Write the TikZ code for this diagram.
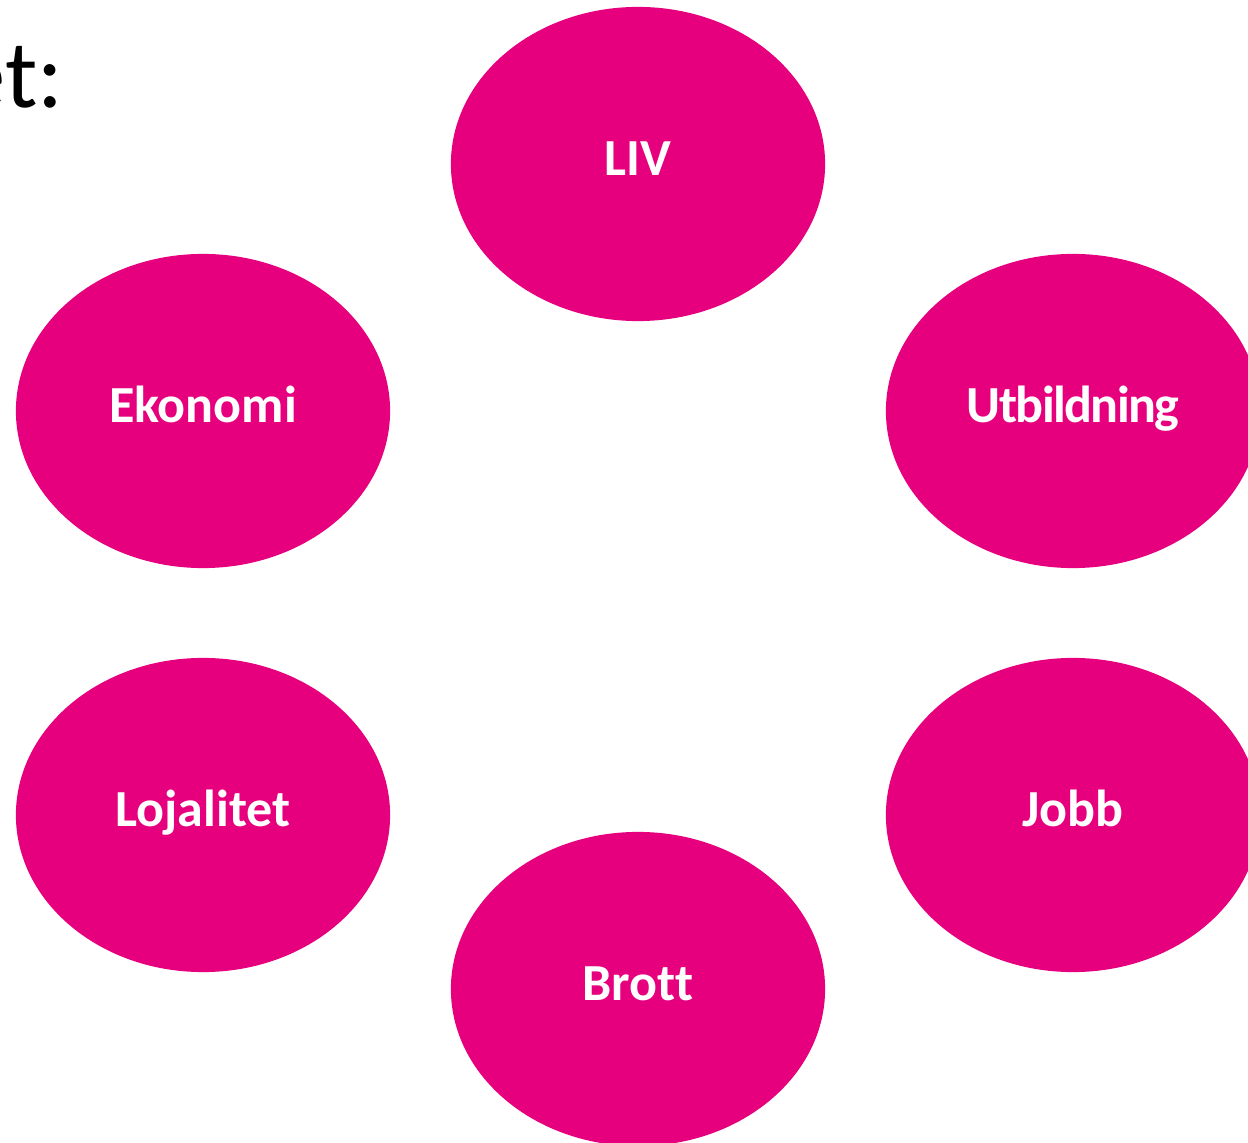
\documentclass[tikz,border=0pt]{standalone}
\usepackage{fontspec}
\setmainfont{Carlito}[Ligatures=NoCommon]
\newfontfamily\narrowfont{Carlito}[Ligatures=NoCommon,LetterSpace=-3]
\usetikzlibrary{shapes.geometric}
\definecolor{magenta}{HTML}{E6007E}
\begin{document}
\begin{tikzpicture}[x=0.01cm,y=-0.01cm]

			\tikzstyle{theme}=[ellipse,fill=magenta,draw=none,
				minimum width=3.74cm,minimum height=3.14cm,
				inner sep=0pt,text=white,
				text height=0.23cm,text depth=0pt,
				font=\fontsize{14.8}{17}\selectfont\bfseries]

			\useasboundingbox (0,0) rectangle (1248,1143);
			\clip (0,0) rectangle (1248,1143);

			\node[anchor=base east,inner sep=0pt,
				font=\fontsize{27.5}{32}\selectfont]
				(heading) at (64,108) {et:};

			\node[theme]	(liv)	at (638,164)	{LIV};
			\node[theme]	(ekonomi)	at (203,411)	{Ekonomi};
			\node[theme]	(utbildning)	at (1073,411)	{\narrowfont\bfseries Utbildning};
			\node[theme]	(lojalitet)	at (203,815)	{Lojalitet};
			\node[theme]	(jobb)	at (1073,815)	{Jobb};
			\node[theme]	(brott)	at (638,989)	{Brott};

\end{tikzpicture}
\end{document}
